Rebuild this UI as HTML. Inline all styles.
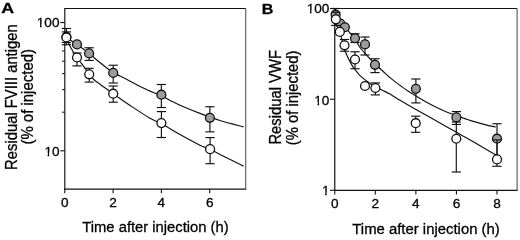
<!DOCTYPE html>
<html lang="en">
<head>
<meta charset="utf-8">
<title>Residual FVIII antigen and VWF after injection</title>
<style>
html,body{margin:0;padding:0;background:#fff;}
body{width:520px;height:240px;overflow:hidden;}
svg{display:block;opacity:0.999;will-change:transform;}
svg text{font-family:"Liberation Sans",sans-serif;fill:#000;stroke:#000;stroke-width:0.3px;}
</style>
</head>
<body>
<svg width="520" height="240" viewBox="0 0 520 240">
<rect x="0" y="0" width="520" height="240" fill="#fff"/>
<line x1="64.80" y1="8.00" x2="64.80" y2="189.65" stroke="#111" stroke-width="1.15"/>
<line x1="64.30" y1="189.15" x2="246.25" y2="189.15" stroke="#111" stroke-width="1.10"/>
<line x1="64.80" y1="8.50" x2="245.75" y2="8.50" stroke="#111" stroke-width="1.00"/>
<line x1="245.75" y1="8.50" x2="245.75" y2="189.15" stroke="#444" stroke-width="1.00"/>
<line x1="60.30" y1="22.55" x2="64.80" y2="22.55" stroke="#111" stroke-width="1.10"/>
<text x="59.50" y="27.30" font-size="13.6" text-anchor="end" font-weight="normal">100</text>
<rect x="37.08" y="24.31" width="2.92" height="5.71" fill="#fff"/>
<rect x="41.59" y="24.31" width="2.41" height="5.71" fill="#fff"/>
<line x1="60.30" y1="150.80" x2="64.80" y2="150.80" stroke="#111" stroke-width="1.10"/>
<text x="59.50" y="155.55" font-size="13.6" text-anchor="end" font-weight="normal">10</text>
<rect x="44.64" y="152.56" width="2.92" height="5.71" fill="#fff"/>
<rect x="49.16" y="152.56" width="2.84" height="5.71" fill="#fff"/>
<line x1="62.00" y1="112.19" x2="64.80" y2="112.19" stroke="#111" stroke-width="1.00"/>
<line x1="62.00" y1="89.61" x2="64.80" y2="89.61" stroke="#111" stroke-width="1.00"/>
<line x1="62.00" y1="73.59" x2="64.80" y2="73.59" stroke="#111" stroke-width="1.00"/>
<line x1="62.00" y1="61.16" x2="64.80" y2="61.16" stroke="#111" stroke-width="1.00"/>
<line x1="62.00" y1="51.00" x2="64.80" y2="51.00" stroke="#111" stroke-width="1.00"/>
<line x1="62.00" y1="42.42" x2="64.80" y2="42.42" stroke="#111" stroke-width="1.00"/>
<line x1="62.00" y1="34.98" x2="64.80" y2="34.98" stroke="#111" stroke-width="1.00"/>
<line x1="62.00" y1="28.42" x2="64.80" y2="28.42" stroke="#111" stroke-width="1.00"/>
<path d="M64.75,36.60 C65.79,37.25 68.96,39.20 71.00,40.50 C73.04,41.80 75.00,43.02 77.00,44.40 C79.00,45.78 80.95,47.32 83.00,48.80 C85.05,50.28 87.25,51.65 89.30,53.30 C91.35,54.95 92.85,56.62 95.30,58.70 C97.75,60.78 101.02,63.43 104.00,65.80 C106.98,68.17 110.53,71.18 113.20,72.90 C115.87,74.62 117.70,75.00 120.00,76.10 C122.30,77.20 124.50,78.22 127.00,79.50 C129.50,80.78 132.83,82.62 135.00,83.80 C137.17,84.98 137.83,85.52 140.00,86.60 C142.17,87.68 144.45,88.77 148.00,90.30 C151.55,91.83 157.63,94.12 161.30,95.80 C164.97,97.48 166.88,98.83 170.00,100.40 C173.12,101.97 175.00,103.03 180.00,105.20 C185.00,107.37 193.33,110.85 200.00,113.40 C206.67,115.95 212.71,118.23 220.00,120.50 C227.29,122.77 239.79,125.92 243.75,127.00" fill="none" stroke="#111" stroke-width="1.15"/>
<path d="M64.75,36.60 C65.29,37.50 66.92,40.02 68.00,42.00 C69.08,43.98 69.75,45.92 71.25,48.50 C72.75,51.08 75.54,55.33 77.00,57.50 C78.46,59.67 78.67,59.70 80.00,61.50 C81.33,63.30 83.45,66.23 85.00,68.30 C86.55,70.37 87.83,72.03 89.30,73.90 C90.77,75.77 92.02,77.78 93.80,79.50 C95.58,81.22 97.50,82.37 100.00,84.20 C102.50,86.03 106.60,88.92 108.80,90.50 C111.00,92.08 111.80,92.68 113.20,93.70 C114.60,94.72 114.50,94.72 117.20,96.60 C119.90,98.48 123.93,101.38 129.40,105.00 C134.87,108.62 144.68,115.20 150.00,118.30 C155.32,121.40 156.30,120.90 161.30,123.60 C166.30,126.30 173.55,130.90 180.00,134.50 C186.45,138.10 195.08,142.78 200.00,145.20 C204.92,147.62 205.33,147.03 209.50,149.00 C213.67,150.97 219.29,154.12 225.00,157.00 C230.71,159.88 240.62,164.71 243.75,166.25" fill="none" stroke="#111" stroke-width="1.15"/>
<line x1="66.40" y1="28.50" x2="66.40" y2="44.75" stroke="#111" stroke-width="1.15"/>
<line x1="61.80" y1="28.50" x2="71.00" y2="28.50" stroke="#111" stroke-width="1.15"/>
<line x1="61.80" y1="44.75" x2="71.00" y2="44.75" stroke="#111" stroke-width="1.15"/>
<line x1="89.10" y1="47.75" x2="89.10" y2="60.40" stroke="#111" stroke-width="1.15"/>
<line x1="84.50" y1="47.75" x2="93.70" y2="47.75" stroke="#111" stroke-width="1.15"/>
<line x1="84.50" y1="60.40" x2="93.70" y2="60.40" stroke="#111" stroke-width="1.15"/>
<line x1="113.20" y1="65.25" x2="113.20" y2="83.00" stroke="#111" stroke-width="1.15"/>
<line x1="108.60" y1="65.25" x2="117.80" y2="65.25" stroke="#111" stroke-width="1.15"/>
<line x1="108.60" y1="83.00" x2="117.80" y2="83.00" stroke="#111" stroke-width="1.15"/>
<line x1="161.35" y1="84.50" x2="161.35" y2="107.50" stroke="#111" stroke-width="1.15"/>
<line x1="156.75" y1="84.50" x2="165.95" y2="84.50" stroke="#111" stroke-width="1.15"/>
<line x1="156.75" y1="107.50" x2="165.95" y2="107.50" stroke="#111" stroke-width="1.15"/>
<line x1="209.90" y1="106.75" x2="209.90" y2="131.85" stroke="#111" stroke-width="1.15"/>
<line x1="205.30" y1="106.75" x2="214.50" y2="106.75" stroke="#111" stroke-width="1.15"/>
<line x1="205.30" y1="131.85" x2="214.50" y2="131.85" stroke="#111" stroke-width="1.15"/>
<line x1="66.40" y1="31.90" x2="66.40" y2="42.50" stroke="#111" stroke-width="1.15"/>
<line x1="61.80" y1="31.90" x2="71.00" y2="31.90" stroke="#111" stroke-width="1.15"/>
<line x1="61.80" y1="42.50" x2="71.00" y2="42.50" stroke="#111" stroke-width="1.15"/>
<line x1="77.00" y1="53.00" x2="77.00" y2="65.90" stroke="#111" stroke-width="1.15"/>
<line x1="72.40" y1="53.00" x2="81.60" y2="53.00" stroke="#111" stroke-width="1.15"/>
<line x1="72.40" y1="65.90" x2="81.60" y2="65.90" stroke="#111" stroke-width="1.15"/>
<line x1="89.20" y1="68.30" x2="89.20" y2="82.10" stroke="#111" stroke-width="1.15"/>
<line x1="84.60" y1="68.30" x2="93.80" y2="68.30" stroke="#111" stroke-width="1.15"/>
<line x1="84.60" y1="82.10" x2="93.80" y2="82.10" stroke="#111" stroke-width="1.15"/>
<line x1="113.20" y1="86.00" x2="113.20" y2="102.20" stroke="#111" stroke-width="1.15"/>
<line x1="108.60" y1="86.00" x2="117.80" y2="86.00" stroke="#111" stroke-width="1.15"/>
<line x1="108.60" y1="102.20" x2="117.80" y2="102.20" stroke="#111" stroke-width="1.15"/>
<line x1="161.40" y1="111.60" x2="161.40" y2="137.50" stroke="#111" stroke-width="1.15"/>
<line x1="156.80" y1="111.60" x2="166.00" y2="111.60" stroke="#111" stroke-width="1.15"/>
<line x1="156.80" y1="137.50" x2="166.00" y2="137.50" stroke="#111" stroke-width="1.15"/>
<line x1="210.10" y1="137.60" x2="210.10" y2="163.70" stroke="#111" stroke-width="1.15"/>
<line x1="205.50" y1="137.60" x2="214.70" y2="137.60" stroke="#111" stroke-width="1.15"/>
<line x1="205.50" y1="163.70" x2="214.70" y2="163.70" stroke="#111" stroke-width="1.15"/>
<circle cx="66.40" cy="36.80" r="4.45" fill="#9c9c9c" stroke="#111" stroke-width="1.30"/>
<circle cx="77.00" cy="44.40" r="4.45" fill="#9c9c9c" stroke="#111" stroke-width="1.30"/>
<circle cx="89.10" cy="53.40" r="4.45" fill="#9c9c9c" stroke="#111" stroke-width="1.30"/>
<circle cx="113.20" cy="72.90" r="4.45" fill="#9c9c9c" stroke="#111" stroke-width="1.30"/>
<circle cx="161.35" cy="94.70" r="4.45" fill="#9c9c9c" stroke="#111" stroke-width="1.30"/>
<circle cx="209.90" cy="117.80" r="4.45" fill="#9c9c9c" stroke="#111" stroke-width="1.30"/>
<circle cx="66.40" cy="37.50" r="4.45" fill="#fff" stroke="#111" stroke-width="1.30"/>
<circle cx="77.00" cy="57.50" r="4.45" fill="#fff" stroke="#111" stroke-width="1.30"/>
<circle cx="89.20" cy="74.30" r="4.45" fill="#fff" stroke="#111" stroke-width="1.30"/>
<circle cx="113.20" cy="93.70" r="4.45" fill="#fff" stroke="#111" stroke-width="1.30"/>
<circle cx="161.40" cy="123.10" r="4.45" fill="#fff" stroke="#111" stroke-width="1.30"/>
<circle cx="210.10" cy="149.15" r="4.45" fill="#fff" stroke="#111" stroke-width="1.30"/>
<line x1="64.80" y1="189.15" x2="64.80" y2="193.35" stroke="#111" stroke-width="1.10"/>
<text x="64.80" y="207.40" font-size="13.6" text-anchor="middle" font-weight="normal">0</text>
<line x1="113.10" y1="189.15" x2="113.10" y2="193.35" stroke="#111" stroke-width="1.10"/>
<text x="113.10" y="207.40" font-size="13.6" text-anchor="middle" font-weight="normal">2</text>
<line x1="161.40" y1="189.15" x2="161.40" y2="193.35" stroke="#111" stroke-width="1.10"/>
<text x="161.40" y="207.40" font-size="13.6" text-anchor="middle" font-weight="normal">4</text>
<line x1="209.70" y1="189.15" x2="209.70" y2="193.35" stroke="#111" stroke-width="1.10"/>
<text x="209.70" y="207.40" font-size="13.6" text-anchor="middle" font-weight="normal">6</text>
<text x="155.45" y="231.70" font-size="15.4" text-anchor="middle" font-weight="normal" textLength="146.20" lengthAdjust="spacingAndGlyphs">Time after injection (h)</text>
<text x="17.40" y="97.10" font-size="15.6" text-anchor="middle" font-weight="normal" transform="rotate(-90 17.40 97.10)" textLength="145.60" lengthAdjust="spacingAndGlyphs">Residual FVIII antigen</text>
<text x="33.00" y="96.80" font-size="15.6" text-anchor="middle" font-weight="normal" transform="rotate(-90 33.00 96.80)" textLength="95.55" lengthAdjust="spacingAndGlyphs">(% of injected)</text>
<text x="1.30" y="12.50" font-size="15.2" text-anchor="start" font-weight="bold" textLength="12.85" lengthAdjust="spacingAndGlyphs">A</text>
<line x1="334.75" y1="8.00" x2="334.75" y2="190.80" stroke="#111" stroke-width="1.20"/>
<line x1="334.25" y1="190.30" x2="517.60" y2="190.30" stroke="#111" stroke-width="1.20"/>
<line x1="334.75" y1="8.50" x2="517.10" y2="8.50" stroke="#111" stroke-width="1.00"/>
<line x1="517.10" y1="8.50" x2="517.10" y2="190.30" stroke="#444" stroke-width="1.00"/>
<line x1="329.95" y1="8.50" x2="334.75" y2="8.50" stroke="#111" stroke-width="1.10"/>
<text x="329.45" y="13.40" font-size="13.6" text-anchor="end" font-weight="normal">100</text>
<rect x="307.03" y="10.41" width="2.92" height="5.71" fill="#fff"/>
<rect x="311.54" y="10.41" width="2.46" height="5.71" fill="#fff"/>
<line x1="329.95" y1="99.25" x2="334.75" y2="99.25" stroke="#111" stroke-width="1.10"/>
<text x="329.45" y="104.60" font-size="13.6" text-anchor="end" font-weight="normal">10</text>
<rect x="314.59" y="101.61" width="2.92" height="5.71" fill="#fff"/>
<rect x="319.11" y="101.61" width="2.89" height="5.71" fill="#fff"/>
<line x1="329.95" y1="190.30" x2="334.75" y2="190.30" stroke="#111" stroke-width="1.10"/>
<text x="329.45" y="195.40" font-size="13.6" text-anchor="end" font-weight="normal">1</text>
<rect x="322.16" y="192.41" width="2.92" height="5.71" fill="#fff"/>
<rect x="326.67" y="192.41" width="2.33" height="5.71" fill="#fff"/>
<path d="M334.50,12.20 C335.42,13.50 338.27,17.53 340.00,20.00 C341.73,22.47 343.23,24.83 344.90,27.00 C346.57,29.17 348.32,31.07 350.00,33.00 C351.68,34.93 353.33,36.18 355.00,38.60 C356.67,41.02 357.50,44.14 360.00,47.50 C362.50,50.86 365.83,54.47 370.00,58.75 C374.17,63.03 381.67,70.06 385.00,73.20 C388.33,76.34 388.17,76.07 390.00,77.60 C391.83,79.13 394.12,80.95 396.00,82.40 C397.88,83.85 399.25,84.87 401.25,86.30 C403.25,87.73 405.71,89.50 408.00,91.00 C410.29,92.50 412.83,93.95 415.00,95.30 C417.17,96.65 418.92,97.85 421.00,99.10 C423.08,100.35 425.62,101.77 427.50,102.80 C429.38,103.83 430.17,104.25 432.25,105.30 C434.33,106.35 437.71,108.02 440.00,109.10 C442.29,110.18 443.92,110.93 446.00,111.80 C448.08,112.67 449.33,113.17 452.50,114.30 C455.67,115.43 461.95,117.55 465.00,118.60 C468.05,119.65 467.47,119.60 470.80,120.60 C474.13,121.60 480.84,123.53 485.00,124.60 C489.16,125.67 493.96,126.60 495.75,127.00" fill="none" stroke="#111" stroke-width="1.15"/>
<path d="M334.50,12.50 C334.75,13.65 335.12,16.17 336.00,19.40 C336.88,22.63 338.73,28.22 339.80,31.90 C340.87,35.58 341.57,38.43 342.40,41.50 C343.22,44.57 343.73,47.42 344.75,50.30 C345.77,53.17 347.25,56.20 348.50,58.75 C349.75,61.30 351.00,63.59 352.25,65.60 C353.50,67.61 354.86,69.30 356.00,70.80 C357.14,72.30 357.85,73.30 359.10,74.60 C360.35,75.90 361.89,77.30 363.50,78.60 C365.11,79.90 366.83,81.07 368.75,82.40 C370.67,83.73 372.71,85.28 375.00,86.60 C377.29,87.92 380.00,89.05 382.50,90.30 C385.00,91.55 387.08,92.43 390.00,94.10 C392.92,95.77 395.83,97.82 400.00,100.30 C404.17,102.78 409.79,106.03 415.00,109.00 C420.21,111.97 425.92,115.12 431.25,118.10 C436.58,121.08 441.79,123.97 447.00,126.90 C452.21,129.83 457.33,132.75 462.50,135.70 C467.67,138.65 472.79,141.59 478.00,144.60 C483.21,147.61 490.58,151.92 493.75,153.75 C496.92,155.58 496.46,155.29 497.00,155.60" fill="none" stroke="#111" stroke-width="1.15"/>
<line x1="335.60" y1="8.50" x2="335.60" y2="17.50" stroke="#111" stroke-width="1.15"/>
<line x1="331.00" y1="8.50" x2="340.20" y2="8.50" stroke="#111" stroke-width="1.15"/>
<line x1="331.00" y1="17.50" x2="340.20" y2="17.50" stroke="#111" stroke-width="1.15"/>
<line x1="355.00" y1="33.75" x2="355.00" y2="42.50" stroke="#111" stroke-width="1.15"/>
<line x1="350.40" y1="33.75" x2="359.60" y2="33.75" stroke="#111" stroke-width="1.15"/>
<line x1="350.40" y1="42.50" x2="359.60" y2="42.50" stroke="#111" stroke-width="1.15"/>
<line x1="365.00" y1="37.00" x2="365.00" y2="55.00" stroke="#111" stroke-width="1.15"/>
<line x1="360.40" y1="37.00" x2="369.60" y2="37.00" stroke="#111" stroke-width="1.15"/>
<line x1="360.40" y1="55.00" x2="369.60" y2="55.00" stroke="#111" stroke-width="1.15"/>
<line x1="375.00" y1="58.75" x2="375.00" y2="72.60" stroke="#111" stroke-width="1.15"/>
<line x1="370.40" y1="58.75" x2="379.60" y2="58.75" stroke="#111" stroke-width="1.15"/>
<line x1="370.40" y1="72.60" x2="379.60" y2="72.60" stroke="#111" stroke-width="1.15"/>
<line x1="415.90" y1="79.00" x2="415.90" y2="102.90" stroke="#111" stroke-width="1.15"/>
<line x1="411.30" y1="79.00" x2="420.50" y2="79.00" stroke="#111" stroke-width="1.15"/>
<line x1="411.30" y1="102.90" x2="420.50" y2="102.90" stroke="#111" stroke-width="1.15"/>
<line x1="456.40" y1="111.60" x2="456.40" y2="124.40" stroke="#111" stroke-width="1.15"/>
<line x1="451.80" y1="111.60" x2="461.00" y2="111.60" stroke="#111" stroke-width="1.15"/>
<line x1="451.80" y1="124.40" x2="461.00" y2="124.40" stroke="#111" stroke-width="1.15"/>
<line x1="497.00" y1="123.75" x2="497.00" y2="160.00" stroke="#111" stroke-width="1.15"/>
<line x1="492.40" y1="123.75" x2="501.60" y2="123.75" stroke="#111" stroke-width="1.15"/>
<line x1="492.40" y1="160.00" x2="501.60" y2="160.00" stroke="#111" stroke-width="1.15"/>
<circle cx="335.60" cy="14.70" r="4.45" fill="#9c9c9c" stroke="#111" stroke-width="1.30"/>
<circle cx="340.30" cy="23.50" r="4.45" fill="#9c9c9c" stroke="#111" stroke-width="1.30"/>
<circle cx="344.90" cy="27.25" r="4.45" fill="#9c9c9c" stroke="#111" stroke-width="1.30"/>
<circle cx="355.00" cy="38.25" r="4.45" fill="#9c9c9c" stroke="#111" stroke-width="1.30"/>
<circle cx="365.00" cy="44.40" r="4.45" fill="#9c9c9c" stroke="#111" stroke-width="1.30"/>
<circle cx="375.00" cy="64.80" r="4.45" fill="#9c9c9c" stroke="#111" stroke-width="1.30"/>
<circle cx="415.90" cy="88.85" r="4.45" fill="#9c9c9c" stroke="#111" stroke-width="1.30"/>
<circle cx="456.40" cy="117.40" r="4.45" fill="#9c9c9c" stroke="#111" stroke-width="1.30"/>
<circle cx="497.00" cy="138.70" r="4.45" fill="#9c9c9c" stroke="#111" stroke-width="1.30"/>
<line x1="335.85" y1="12.30" x2="335.85" y2="25.40" stroke="#111" stroke-width="1.15"/>
<line x1="331.25" y1="12.30" x2="340.45" y2="12.30" stroke="#111" stroke-width="1.15"/>
<line x1="331.25" y1="25.40" x2="340.45" y2="25.40" stroke="#111" stroke-width="1.15"/>
<line x1="344.50" y1="39.50" x2="344.50" y2="51.25" stroke="#111" stroke-width="1.15"/>
<line x1="339.90" y1="39.50" x2="349.10" y2="39.50" stroke="#111" stroke-width="1.15"/>
<line x1="339.90" y1="51.25" x2="349.10" y2="51.25" stroke="#111" stroke-width="1.15"/>
<line x1="355.00" y1="51.75" x2="355.00" y2="68.75" stroke="#111" stroke-width="1.15"/>
<line x1="350.40" y1="51.75" x2="359.60" y2="51.75" stroke="#111" stroke-width="1.15"/>
<line x1="350.40" y1="68.75" x2="359.60" y2="68.75" stroke="#111" stroke-width="1.15"/>
<line x1="375.40" y1="82.90" x2="375.40" y2="94.90" stroke="#111" stroke-width="1.15"/>
<line x1="370.80" y1="82.90" x2="380.00" y2="82.90" stroke="#111" stroke-width="1.15"/>
<line x1="370.80" y1="94.90" x2="380.00" y2="94.90" stroke="#111" stroke-width="1.15"/>
<line x1="415.70" y1="116.20" x2="415.70" y2="132.30" stroke="#111" stroke-width="1.15"/>
<line x1="411.10" y1="116.20" x2="420.30" y2="116.20" stroke="#111" stroke-width="1.15"/>
<line x1="411.10" y1="132.30" x2="420.30" y2="132.30" stroke="#111" stroke-width="1.15"/>
<line x1="456.30" y1="122.00" x2="456.30" y2="172.00" stroke="#111" stroke-width="1.15"/>
<line x1="451.70" y1="122.00" x2="460.90" y2="122.00" stroke="#111" stroke-width="1.15"/>
<line x1="451.70" y1="172.00" x2="460.90" y2="172.00" stroke="#111" stroke-width="1.15"/>
<line x1="497.00" y1="139.90" x2="497.00" y2="166.25" stroke="#111" stroke-width="1.15"/>
<line x1="492.40" y1="139.90" x2="501.60" y2="139.90" stroke="#111" stroke-width="1.15"/>
<line x1="492.40" y1="166.25" x2="501.60" y2="166.25" stroke="#111" stroke-width="1.15"/>
<circle cx="335.85" cy="19.30" r="4.45" fill="#fff" stroke="#111" stroke-width="1.30"/>
<circle cx="339.80" cy="31.90" r="4.45" fill="#fff" stroke="#111" stroke-width="1.30"/>
<circle cx="344.50" cy="45.30" r="4.45" fill="#fff" stroke="#111" stroke-width="1.30"/>
<circle cx="355.00" cy="59.50" r="4.45" fill="#fff" stroke="#111" stroke-width="1.30"/>
<circle cx="365.00" cy="86.00" r="4.45" fill="#fff" stroke="#111" stroke-width="1.30"/>
<circle cx="375.40" cy="88.00" r="4.45" fill="#fff" stroke="#111" stroke-width="1.30"/>
<circle cx="415.70" cy="123.20" r="4.45" fill="#fff" stroke="#111" stroke-width="1.30"/>
<circle cx="456.30" cy="138.75" r="4.45" fill="#fff" stroke="#111" stroke-width="1.30"/>
<circle cx="497.00" cy="159.40" r="4.45" fill="#fff" stroke="#111" stroke-width="1.30"/>
<line x1="334.75" y1="190.30" x2="334.75" y2="194.50" stroke="#111" stroke-width="1.10"/>
<text x="334.75" y="208.40" font-size="13.6" text-anchor="middle" font-weight="normal">0</text>
<line x1="375.31" y1="190.30" x2="375.31" y2="194.50" stroke="#111" stroke-width="1.10"/>
<text x="375.31" y="208.40" font-size="13.6" text-anchor="middle" font-weight="normal">2</text>
<line x1="415.87" y1="190.30" x2="415.87" y2="194.50" stroke="#111" stroke-width="1.10"/>
<text x="415.87" y="208.40" font-size="13.6" text-anchor="middle" font-weight="normal">4</text>
<line x1="456.43" y1="190.30" x2="456.43" y2="194.50" stroke="#111" stroke-width="1.10"/>
<text x="456.43" y="208.40" font-size="13.6" text-anchor="middle" font-weight="normal">6</text>
<line x1="496.99" y1="190.30" x2="496.99" y2="194.50" stroke="#111" stroke-width="1.10"/>
<text x="496.99" y="208.40" font-size="13.6" text-anchor="middle" font-weight="normal">8</text>
<text x="426.05" y="234.20" font-size="15.4" text-anchor="middle" font-weight="normal" textLength="147.50" lengthAdjust="spacingAndGlyphs">Time after injection (h)</text>
<text x="281.20" y="97.30" font-size="15.6" text-anchor="middle" font-weight="normal" transform="rotate(-90 281.20 97.30)" textLength="94.58" lengthAdjust="spacingAndGlyphs">Residual VWF</text>
<text x="298.40" y="97.90" font-size="15.6" text-anchor="middle" font-weight="normal" transform="rotate(-90 298.40 97.90)" textLength="94.60" lengthAdjust="spacingAndGlyphs">(% of injected)</text>
<text x="261.80" y="13.70" font-size="15.2" text-anchor="start" font-weight="bold" textLength="11.60" lengthAdjust="spacingAndGlyphs">B</text>
</svg>
</body>
</html>
